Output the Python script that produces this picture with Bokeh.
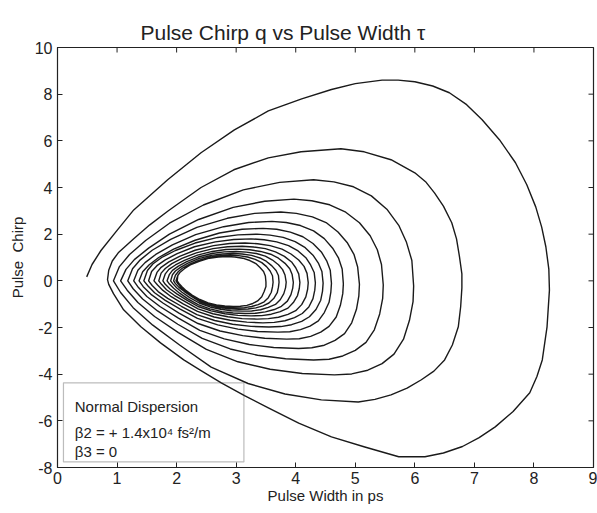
import math
from bokeh.plotting import figure
from bokeh.models import Range1d, FixedTicker, BoxAnnotation, Label
from bokeh.embed import file_html
from bokeh.resources import INLINE

# ---------------- data ----------------
x_ticks = [0, 1, 2, 3, 4, 5, 6, 7, 8, 9]
x_tick_labels = ["0", "1", "2", "3", "4", "5", "6", "7", "8", "9"]
y_ticks = [-8, -6, -4, -2, 0, 2, 4, 6, 8, 10]
y_tick_labels = ["-8", "-6", "-4", "-2", "0", "2", "4", "6", "8", "10"]

# one trajectory (pulse width tau in ps, chirp q), spiralling inward, turn by turn
turn1_w = [0.49, 0.58, 0.73, 0.98, 1.28, 1.85, 2.41, 2.97, 3.54, 4.1, 4.6, 5.0, 5.45, 5.72, 6.0, 6.3, 6.58, 6.87, 7.13, 7.42,
           7.69, 7.88, 8.03, 8.13, 8.2, 8.25, 8.26, 8.22, 8.14, 8.05, 7.93, 7.65, 7.35, 7.08, 6.8, 6.48, 6.17, 5.73, 5.16, 4.6,
           4.05, 3.54, 3.14, 2.75, 2.41, 2.12, 1.73, 1.4, 1.11, 0.94, 0.86]
turn1_q = [0.17, 0.7, 1.3, 2.1, 3.04, 4.33, 5.49, 6.47, 7.28, 7.8, 8.2, 8.45, 8.6, 8.6, 8.53, 8.35, 8.06, 7.55, 6.9, 6.05,
           5.06, 4.12, 3.17, 2.3, 1.46, 0.5, -0.4, -1.97, -3.39, -4.1, -4.8, -5.6, -6.26, -6.72, -7.1, -7.38, -7.54, -7.54, -7.12, -6.69,
           -6.1, -5.44, -4.92, -4.37, -3.85, -3.39, -2.66, -1.97, -1.24, -0.55, -0.15]
turn2_w = [0.84, 0.86, 0.92, 1.02, 1.15, 1.28, 1.55, 1.85, 2.41, 2.96, 3.54, 4.09, 4.76, 5.15, 5.6, 6.0, 6.18, 6.33, 6.48, 6.62,
           6.7, 6.75, 6.79, 6.79, 6.77, 6.73, 6.63, 6.5, 6.32, 6.11, 5.87, 5.6, 5.33, 5.05, 4.43, 3.82, 3.20, 2.58, 2.05, 1.60,
           1.27, 1.06]
turn2_q = [0.05, 0.45, 0.85, 1.2, 1.5, 1.8, 2.4, 2.98, 4.0, 4.76, 5.27, 5.53, 5.66, 5.53, 5.19, 4.63, 4.25, 3.77, 3.2, 2.49,
           1.8, 1.03, 0.3, -0.3, -1.1, -1.97, -2.75, -3.39, -3.87, -4.24, -4.6, -4.89, -5.08, -5.19, -5.1, -4.85, -4.4, -3.7, -2.75, -1.9,
           -1.15, -0.5]
turn3_w = [0.94, 1.04, 1.21, 1.48, 1.88, 2.45, 3.12, 3.73, 4.30, 4.64, 4.97, 5.27, 5.53, 5.73, 5.86, 5.95, 5.98,
           5.97, 5.91, 5.81, 5.65, 5.45, 5.21, 4.94, 4.65, 4.11, 3.57, 3.03, 2.50, 2.03, 1.63, 1.35, 1.17]
turn3_q = [0.0, 0.61, 1.13, 1.73, 2.47, 3.25, 3.90, 4.22, 4.33, 4.24, 4.03, 3.64, 3.07, 2.38, 1.65, 0.87, -0.22,
           -0.89, -1.69, -2.50, -3.14, -3.55, -3.83, -3.99, -4.03, -3.97, -3.79, -3.47, -2.94, -2.22, -1.53, -0.93, -0.40]
turn4_w = [1.06, 1.15, 1.29, 1.53, 1.88, 2.37, 2.95, 3.48, 3.97, 4.27, 4.57, 4.84, 5.07, 5.25, 5.37, 5.44, 5.47,
           5.46, 5.41, 5.32, 5.18, 5.0, 4.79, 4.56, 4.3, 3.83, 3.36, 2.90, 2.43, 2.02, 1.68, 1.43, 1.27]
turn4_q = [0.0, 0.49, 0.91, 1.40, 2.0, 2.63, 3.15, 3.41, 3.5, 3.43, 3.26, 2.94, 2.49, 1.93, 1.33, 0.7, -0.18,
           -0.75, -1.42, -2.1, -2.64, -2.98, -3.22, -3.36, -3.39, -3.34, -3.19, -2.92, -2.47, -1.86, -1.29, -0.78, -0.34]
turn5_w = [1.18, 1.26, 1.39, 1.59, 1.90, 2.34, 2.85, 3.31, 3.75, 4.01, 4.28, 4.52, 4.71, 4.87, 4.98, 5.04, 5.07,
           5.06, 5.02, 4.94, 4.82, 4.66, 4.48, 4.27, 4.05, 3.63, 3.22, 2.80, 2.39, 2.03, 1.72, 1.50, 1.36]
turn5_q = [0.0, 0.52, 0.90, 1.31, 1.78, 2.29, 2.68, 2.89, 2.95, 2.89, 2.74, 2.48, 2.09, 1.62, 1.12, 0.59, -0.15,
           -0.64, -1.22, -1.8, -2.26, -2.55, -2.76, -2.87, -2.9, -2.86, -2.73, -2.49, -2.12, -1.60, -1.10, -0.67, -0.29]
turn6_w = [1.28, 1.35, 1.47, 1.65, 1.93, 2.32, 2.79, 3.21, 3.6, 3.84, 4.08, 4.30, 4.48, 4.62, 4.72, 4.78, 4.8,
           4.79, 4.75, 4.68, 4.56, 4.42, 4.25, 4.06, 3.85, 3.48, 3.11, 2.73, 2.36, 2.04, 1.77, 1.57, 1.44]
turn6_q = [0.0, 0.45, 0.78, 1.13, 1.54, 1.98, 2.32, 2.50, 2.55, 2.50, 2.37, 2.14, 1.81, 1.40, 0.97, 0.51, -0.13,
           -0.55, -1.05, -1.55, -1.95, -2.2, -2.38, -2.48, -2.5, -2.46, -2.35, -2.15, -1.83, -1.38, -0.95, -0.58, -0.25]
turn7_w = [1.37, 1.43, 1.54, 1.70, 1.95, 2.31, 2.72, 3.10, 3.45, 3.68, 3.91, 4.12, 4.29, 4.43, 4.52, 4.58, 4.6,
           4.59, 4.56, 4.48, 4.38, 4.24, 4.08, 3.90, 3.7, 3.36, 3.03, 2.69, 2.35, 2.06, 1.81, 1.63, 1.52]
turn7_q = [0.0, 0.39, 0.69, 1.0, 1.36, 1.74, 2.05, 2.21, 2.25, 2.21, 2.09, 1.89, 1.60, 1.24, 0.86, 0.45, -0.11,
           -0.48, -0.92, -1.36, -1.72, -1.94, -2.09, -2.18, -2.2, -2.17, -2.07, -1.89, -1.61, -1.21, -0.84, -0.51, -0.22]
turn8_w = [1.45, 1.51, 1.60, 1.75, 1.98, 2.31, 2.69, 3.03, 3.35, 3.57, 3.79, 3.99, 4.16, 4.29, 4.38, 4.44, 4.46,
           4.45, 4.42, 4.34, 4.23, 4.10, 3.93, 3.75, 3.55, 3.25, 2.94, 2.64, 2.34, 2.08, 1.85, 1.69, 1.59]
turn8_q = [0.0, 0.44, 0.72, 1.0, 1.3, 1.62, 1.86, 1.97, 2.0, 1.96, 1.86, 1.68, 1.42, 1.1, 0.76, 0.4, -0.1,
           -0.44, -0.83, -1.23, -1.54, -1.74, -1.88, -1.96, -1.98, -1.95, -1.86, -1.70, -1.45, -1.09, -0.75, -0.46, -0.20]
turn9_w = [1.53, 1.58, 1.67, 1.81, 2.01, 2.30, 2.65, 2.96, 3.25, 3.47, 3.68, 3.88, 4.04, 4.17, 4.25, 4.31, 4.33,
           4.32, 4.29, 4.22, 4.11, 3.98, 3.82, 3.64, 3.45, 3.18, 2.90, 2.63, 2.35, 2.11, 1.91, 1.77, 1.68]
turn9_q = [0.0, 0.40, 0.65, 0.9, 1.17, 1.46, 1.67, 1.77, 1.8, 1.76, 1.67, 1.51, 1.28, 0.99, 0.68, 0.36, -0.09,
           -0.40, -0.76, -1.12, -1.40, -1.58, -1.71, -1.78, -1.8, -1.77, -1.69, -1.55, -1.31, -0.99, -0.68, -0.41, -0.18]
turn10_w = [1.62, 1.67, 1.74, 1.87, 2.05, 2.31, 2.62, 2.89, 3.15, 3.36, 3.57, 3.77, 3.92, 4.05, 4.14, 4.19, 4.21,
            4.20, 4.17, 4.10, 4.0, 3.87, 3.71, 3.54, 3.35, 3.10, 2.86, 2.61, 2.36, 2.15, 1.96, 1.83, 1.75]
turn10_q = [0.0, 0.36, 0.58, 0.81, 1.05, 1.31, 1.51, 1.60, 1.62, 1.59, 1.51, 1.36, 1.15, 0.89, 0.62, 0.32, -0.08,
            -0.36, -0.69, -1.02, -1.28, -1.44, -1.56, -1.62, -1.64, -1.62, -1.54, -1.41, -1.20, -0.90, -0.62, -0.38, -0.16]
turn11_w = [1.70, 1.74, 1.81, 1.92, 2.09, 2.33, 2.61, 2.86, 3.1, 3.29, 3.49, 3.66, 3.81, 3.93, 4.0, 4.05, 4.07,
            4.06, 4.03, 3.96, 3.87, 3.74, 3.59, 3.43, 3.25, 3.03, 2.81, 2.58, 2.36, 2.17, 2.01, 1.89, 1.81]
turn11_q = [0.0, 0.33, 0.53, 0.74, 0.96, 1.20, 1.38, 1.46, 1.48, 1.45, 1.38, 1.24, 1.05, 0.81, 0.56, 0.30, -0.07,
            -0.33, -0.63, -0.93, -1.17, -1.32, -1.43, -1.49, -1.5, -1.48, -1.41, -1.29, -1.10, -0.83, -0.57, -0.35, -0.15]
turn12_w = [1.77, 1.81, 1.87, 1.98, 2.13, 2.35, 2.60, 2.83, 3.05, 3.23, 3.41, 3.58, 3.71, 3.82, 3.90, 3.94, 3.96,
            3.95, 3.92, 3.86, 3.76, 3.64, 3.49, 3.33, 3.15, 2.95, 2.76, 2.56, 2.36, 2.19, 2.05, 1.95, 1.88]
turn12_q = [0.0, 0.30, 0.49, 0.68, 0.88, 1.10, 1.26, 1.34, 1.36, 1.33, 1.26, 1.14, 0.97, 0.75, 0.52, 0.27, -0.07,
            -0.31, -0.59, -0.87, -1.09, -1.23, -1.33, -1.39, -1.4, -1.38, -1.32, -1.20, -1.02, -0.77, -0.53, -0.32, -0.14]
turn13_w = [1.84, 1.88, 1.93, 2.03, 2.17, 2.36, 2.59, 2.80, 3.0, 3.17, 3.34, 3.49, 3.61, 3.71, 3.78, 3.82, 3.84,
            3.83, 3.80, 3.74, 3.66, 3.54, 3.41, 3.26, 3.1, 2.92, 2.74, 2.56, 2.38, 2.22, 2.09, 2.0, 1.94]
turn13_q = [0.0, 0.28, 0.45, 0.63, 0.82, 1.02, 1.17, 1.24, 1.26, 1.23, 1.17, 1.06, 0.89, 0.69, 0.48, 0.25, -0.06,
            -0.29, -0.55, -0.81, -1.01, -1.14, -1.24, -1.29, -1.3, -1.28, -1.22, -1.12, -0.95, -0.72, -0.49, -0.30, -0.13]
turn14_w = [1.90, 1.93, 1.98, 2.07, 2.19, 2.37, 2.58, 2.77, 2.95, 3.10, 3.26, 3.40, 3.51, 3.60, 3.67, 3.71, 3.72,
            3.71, 3.69, 3.63, 3.55, 3.45, 3.33, 3.20, 3.05, 2.89, 2.72, 2.56, 2.39, 2.25, 2.13, 2.04, 1.98]
turn14_q = [0.0, 0.26, 0.42, 0.59, 0.76, 0.95, 1.09, 1.15, 1.17, 1.15, 1.09, 0.98, 0.83, 0.64, 0.44, 0.23, -0.06,
            -0.27, -0.51, -0.76, -0.95, -1.07, -1.16, -1.21, -1.22, -1.20, -1.15, -1.05, -0.89, -0.67, -0.46, -0.28, -0.12]
turn15_w = [1.95, 1.98, 2.03, 2.10, 2.22, 2.38, 2.57, 2.74, 2.9, 3.04, 3.19, 3.32, 3.43, 3.51, 3.57, 3.61, 3.62,
            3.61, 3.59, 3.54, 3.47, 3.37, 3.26, 3.14, 3.0, 2.85, 2.70, 2.55, 2.39, 2.26, 2.15, 2.07, 2.02]
turn15_q = [0.0, 0.24, 0.40, 0.55, 0.72, 0.89, 1.02, 1.08, 1.1, 1.08, 1.02, 0.92, 0.78, 0.61, 0.42, 0.22, -0.06,
            -0.26, -0.49, -0.72, -0.90, -1.02, -1.10, -1.15, -1.16, -1.14, -1.09, -1.0, -0.85, -0.64, -0.44, -0.27, -0.12]
turn16_w = [1.99, 2.02, 2.06, 2.13, 2.23, 2.38, 2.55, 2.70, 2.85, 2.98, 3.11, 3.23, 3.33, 3.40, 3.46, 3.49, 3.5,
            3.50, 3.47, 3.43, 3.36, 3.28, 3.18, 3.07, 2.95, 2.81, 2.67, 2.53, 2.39, 2.26, 2.16, 2.09, 2.04, 2.01, 2.02]
turn16_q = [0.0, 0.23, 0.37, 0.52, 0.68, 0.84, 0.97, 1.02, 1.04, 1.02, 0.97, 0.87, 0.74, 0.57, 0.40, 0.21, -0.05,
            -0.24, -0.46, -0.68, -0.86, -0.97, -1.05, -1.09, -1.1, -1.08, -1.03, -0.95, -0.80, -0.61, -0.42, -0.25, -0.11, 0.0, 0.22]

legend_lines = ["Normal Dispersion", "\u03b22 = + 1.4x10\u2074 fs\u00b2/m", "\u03b23 = 0"]

turns_w = [turn1_w, turn2_w, turn3_w, turn4_w, turn5_w, turn6_w, turn7_w, turn8_w,
           turn9_w, turn10_w, turn11_w, turn12_w, turn13_w, turn14_w, turn15_w, turn16_w]
turns_q = [turn1_q, turn2_q, turn3_q, turn4_q, turn5_q, turn6_q, turn7_q, turn8_q,
           turn9_q, turn10_q, turn11_q, turn12_q, turn13_q, turn14_q, turn15_q, turn16_q]
width_ps = [v for t in turns_w for v in t]
chirp = [v for t in turns_q for v in t]

# ---------------- figure ----------------
FONT = "Liberation Sans"
INK = "#222222"
p = figure(width=597, height=513, x_range=Range1d(0, 9), y_range=Range1d(-8, 10),
           output_backend="svg", toolbar_location=None,
           min_border_left=57, min_border_right=4, min_border_top=47, min_border_bottom=46)
p.background_fill_color = "white"
p.border_fill_color = "white"
p.grid.visible = False
p.outline_line_color = INK
p.outline_line_width = 1.2

p.title.text = "Pulse Chirp q vs Pulse Width  \u03c4"
p.title.text_font = FONT
p.title.text_font_size = "21px"
p.title.text_font_style = "normal"
p.title.text_color = INK
p.title.align = "left"
p.title.offset = 83
p.title.standoff = 8

for ax, ticks, labels in ((p.xaxis[0], x_ticks, x_tick_labels), (p.yaxis[0], y_ticks, y_tick_labels)):
    ax.ticker = FixedTicker(ticks=ticks)
    ax.major_label_overrides = {t: l for t, l in zip(ticks, labels)}
    ax.major_tick_in = 5
    ax.major_tick_out = 0
    ax.minor_tick_line_color = None
    ax.axis_line_color = INK
    ax.major_tick_line_color = INK
    ax.major_label_text_font = FONT
    ax.major_label_text_font_size = "16px"
    ax.major_label_text_color = INK
    ax.axis_label_text_font = FONT
    ax.axis_label_text_font_size = "15px"
    ax.axis_label_text_font_style = "normal"
    ax.axis_label_text_color = INK

p.xaxis.axis_label = "Pulse Width in ps"
p.yaxis.axis_label = "Pulse\u00a0 Chirp"
p.xaxis.major_label_standoff = 4
p.xaxis.axis_label_standoff = 0
p.yaxis.major_label_standoff = 5
p.yaxis.axis_label_standoff = 6

# inward ticks on the top and right edges of the box (half of each dash is clipped by the frame)
p.scatter(x=x_ticks, y=[y_ticks[-1]] * len(x_ticks), marker="dash", angle=math.pi / 2,
          size=10, line_color=INK, line_width=1)
p.scatter(x=[x_ticks[-1]] * len(y_ticks), y=y_ticks, marker="dash",
          size=10, line_color=INK, line_width=1)

p.line(width_ps, chirp, line_color="#1a1a1a", line_width=1.4, line_join="round")

box = BoxAnnotation(left=0.1, right=3.13, top=-4.37, bottom=-7.76,
                    fill_alpha=0, line_color=INK, line_width=1.2)
p.add_layout(box)
for txt, yy in zip(legend_lines, [-5.4, -6.5, -7.33]):
    p.add_layout(Label(x=0.29, y=yy, text=txt, text_font=FONT, text_font_size="15px",
                       text_color=INK, text_baseline="alphabetic"))

open("out.html", "w").write(file_html(p, INLINE))
